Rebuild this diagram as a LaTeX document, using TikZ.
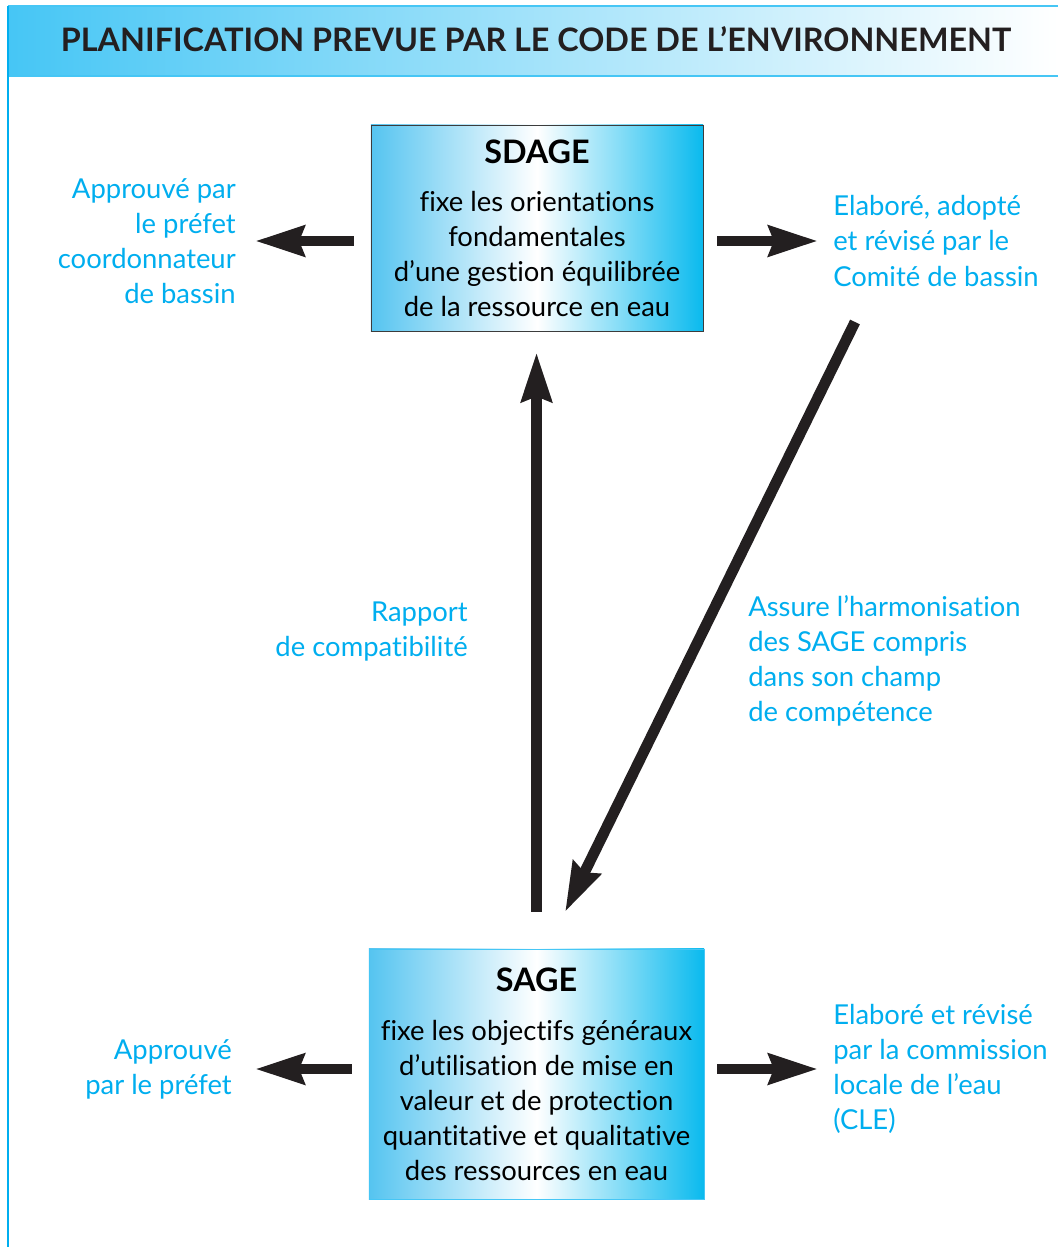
\documentclass[tikz,border=0pt]{standalone}
\usepackage{fontspec}
\setmainfont{Lato}[Ligatures=NoCommon]
\usepackage{tikz}
\usetikzlibrary{positioning, calc}
\usetikzlibrary{arrows.meta}

\definecolor{eaucyan}{RGB}{0,174,239}
\definecolor{barcyan}{RGB}{70,198,245}
\definecolor{boxleft}{RGB}{85,196,240}
\definecolor{boxright}{RGB}{10,186,238}
\definecolor{arrowblack}{RGB}{35,31,32}
\definecolor{boxframe}{RGB}{60,60,60}

\tikzset{
    bigarrow/.style={draw=arrowblack, line width=0.27cm,
        -{Stealth[length=1.22cm, width=0.74cm, inset=0.12cm]}},
    planbox/.style={shade, left color=boxleft, right color=boxright, middle color=white,
        align=center, inner sep=0pt, font=\fontsize{19.5}{24.9pt}\selectfont},
    note/.style={text=eaucyan, inner sep=0pt, font=\fontsize{19.5}{24.9pt}\selectfont}
}

\begin{document}
\begin{tikzpicture}[x=0.025cm, y=-0.025cm]
            \useasboundingbox (0,0) rectangle (1058,1247);
            \fill[white] (0,0) rectangle (1058,1247);
            % bandeau du titre
            \shade[left color=barcyan, right color=white] (8,6) rectangle (1058,76);
            \draw[barcyan, line width=0.05cm] (8,6) -- (1058,6);
            \draw[barcyan, line width=0.05cm] (8,76) -- (1058,76);
            \draw[eaucyan, line width=0.06cm] (8,6) -- (8,1247);
            \node[font=\bfseries\fontsize{23}{27}\selectfont, text=arrowblack] (title) at (536,39)
                {PLANIFICATION PREVUE PAR LE CODE DE L’ENVIRONNEMENT};

            \node[planbox, draw=boxframe, minimum width=8.3cm, minimum height=5.15cm] (sdage) at (537,228)
                {{\bfseries\fontsize{23}{24.9pt}\selectfont SDAGE}\\[0.33cm]fixe les orientations\\fondamentales\\d’une gestion équilibrée\\de la ressource en eau};
            \node[planbox, draw=barcyan, minimum width=8.375cm, minimum height=6.25cm] (sage) at (536.5,1074)
                {{\bfseries\fontsize{23}{24.9pt}\selectfont SAGE}\\[0.35cm]fixe les objectifs généraux\\d’utilisation de mise en\\valeur et de protection\\quantitative et qualitative\\des ressources en eau};

            \node[note, align=right, anchor=east] (sdageleft) at (236,241)
                {Approuvé par\\le préfet\\coordonnateur\\de bassin};
            \node[note, align=left, anchor=west] (sdageright) at (833,241)
                {Elaboré, adopté\\et révisé par le\\Comité de bassin};
            \node[note, align=right, anchor=east] (rapport) at (468,632)
                {Rapport\\de compatibilité};
            \node[note, align=left, anchor=west] (harmon) at (748,661)
                {Assure l’harmonisation\\des SAGE compris\\dans son champ\\de compétence};
            \node[note, align=right, anchor=east] (sageleft) at (232,1069)
                {Approuvé\\par le préfet};
            \node[note, align=left, anchor=west] (sageright) at (833,1069)
                {Elaboré et révisé\\par la commission\\locale de l’eau\\(CLE)};

            \coordinate (harmtop) at (855,322);
            \coordinate (harmtip) at (565,912);

            \draw[bigarrow, shorten <=0.425cm, shorten >=0.475cm] (sdageleft.east -| sdage.west) -- (sdageleft.east);
            \draw[bigarrow, shorten <=0.35cm, shorten >=0.375cm] (sdageright.west -| sdage.east) -- (sdageright.west);
            \draw[bigarrow, shorten <=0.425cm, shorten >=0.575cm] (sageleft.east -| sage.west) -- (sageleft.east);
            \draw[bigarrow, shorten <=0.325cm, shorten >=0.375cm] (sageright.west -| sage.east) -- (sageright.west);
            \draw[bigarrow, shorten <=0.925cm, shorten >=0.525cm] (sage.north) -- (sage.north |- sdage.south);
            \draw[bigarrow] (harmtop) -- (harmtip);
        \end{tikzpicture}
\end{document}
